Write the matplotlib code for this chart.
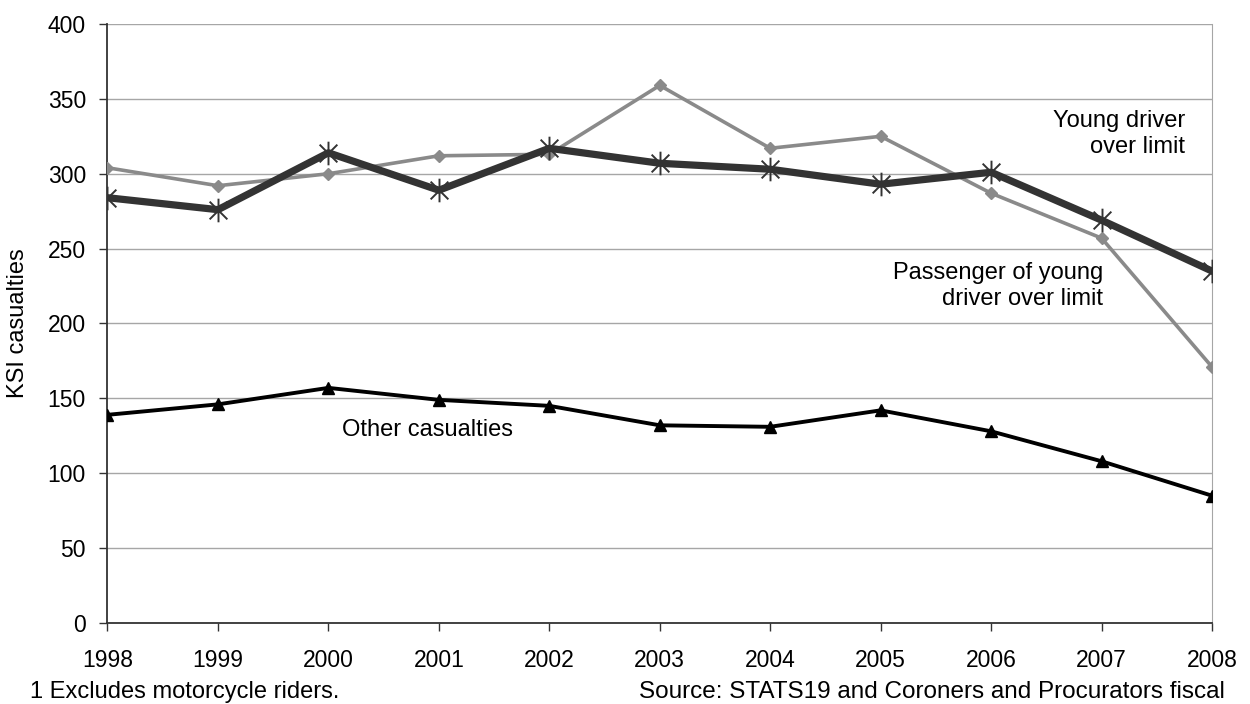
import numpy as np
import matplotlib
matplotlib.use("Agg")
import matplotlib.pyplot as plt
from matplotlib.path import Path

plt.rcParams["font.family"] = ["Liberation Sans", "DejaVu Sans"]

years = [1998, 1999, 2000, 2001, 2002, 2003, 2004, 2005, 2006, 2007, 2008]
young_driver = [284, 276, 314, 289, 317, 307, 303, 293, 301, 269, 235]
passenger = [304, 292, 300, 312, 313, 359, 317, 325, 287, 257, 171]
other = [139, 146, 157, 149, 145, 132, 131, 142, 128, 108, 85]
yticks = [0, 50, 100, 150, 200, 250, 300, 350, 400]

# Excel-style asterisk: vertical bar plus a diagonal cross
star = Path([(0, -1), (0, 1), (-0.75, -0.75), (0.75, 0.75), (-0.75, 0.75), (0.75, -0.75)],
            [Path.MOVETO, Path.LINETO, Path.MOVETO, Path.LINETO, Path.MOVETO, Path.LINETO])

FS = 16.5

fig = plt.figure(figsize=(12.5, 7.04), dpi=100)
ax = fig.add_axes([0.086, 0.1151, 0.8836, 0.8508])

x = np.arange(len(years))
ax.plot(x, passenger, color="#8a8a8a", lw=2.6, marker="D", ms=6.5,
        mfc="#8a8a8a", mec="#8a8a8a", zorder=3)
ax.plot(x, young_driver, color="#333333", lw=5.2, zorder=4)
ax.plot(x, young_driver, ls="none", marker=star, ms=17, mfc="none",
        mec="#333333", mew=1.4, zorder=5)
ax.plot(x, other, color="black", lw=2.8, marker="^", ms=8, mfc="black",
        mec="black", zorder=3)

ax.set_xlim(0, len(years) - 1)
ax.set_ylim(0, 400)
ax.set_yticks(yticks)
ax.set_xticks(x)
ax.set_xticklabels([str(y) for y in years])
ax.tick_params(axis="both", labelsize=FS, length=5.5, width=1, color="#333333",
               direction="out")
ax.tick_params(axis="x", pad=13)
ax.tick_params(axis="y", pad=10)
ax.yaxis.grid(True, color="#a6a6a6", lw=1)
ax.set_axisbelow(True)

for s in ["left", "bottom"]:
    ax.spines[s].set_color("#333333")
    ax.spines[s].set_linewidth(1.3)
ax.spines["right"].set_color("#a6a6a6")
ax.spines["top"].set_visible(False)

fig.text(0.0145, 0.5405, "KSI casualties", fontsize=FS + 0.5, rotation=90,
         ha="center", va="center")

ax.text(9.755, 326.5, "Young driver\nover limit", ha="right", va="center",
        fontsize=FS + 0.5)
ax.text(9.012, 225, "Passenger of young\ndriver over limit", ha="right",
        va="center", fontsize=FS + 0.5)
ax.text(2.123, 129, "Other casualties", ha="left", va="center",
        fontsize=FS + 0.5)

fig.text(0.024, 0.009, "1 Excludes motorcycle riders.", fontsize=FS + 0.5,
         ha="left", va="baseline")
fig.text(0.98, 0.009, "Source: STATS19 and Coroners and Procurators fiscal",
         fontsize=FS + 1, ha="right", va="baseline")

fig.savefig("out.png", dpi=100)
